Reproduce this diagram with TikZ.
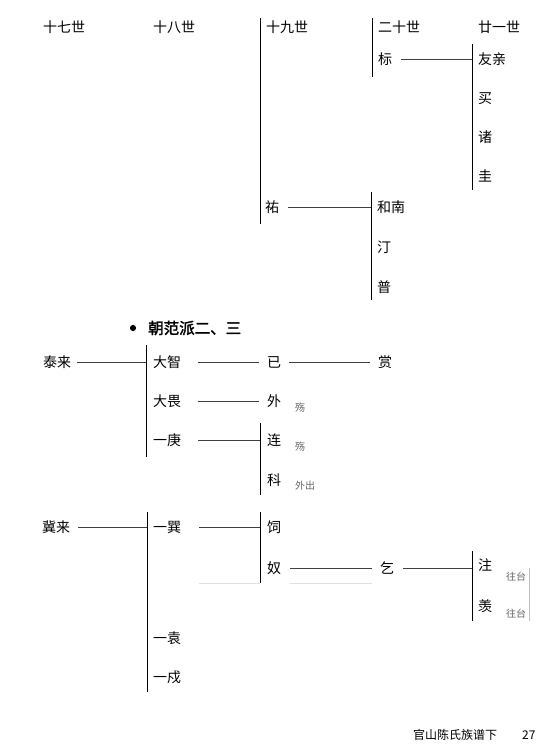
\documentclass[tikz,border=0pt]{standalone}
\usepackage{fontspec}
\newfontfamily\cjk{Noto Sans CJK SC}
\newfontfamily\cjkbold[FakeBold=2]{Noto Sans CJK SC}
\tikzset{
  person/.style={anchor=west, inner sep=0pt, font=\cjk\fontsize{14}{14}\selectfont},
  note/.style={anchor=west, inner sep=0pt, text=black!60, font=\cjk\fontsize{10}{10}\selectfont},
  vrule/.style={line width=1pt, black},
  hrule/.style={line width=0.8pt, black!75},
  faint/.style={line width=0.8pt, black!12},
}
\begin{document}
\begin{tikzpicture}[x=1pt,y=-1pt]
\useasboundingbox (0,0) rectangle (550,750);
% headers
\node[person] (h17) at (43,27) {十七世};
\node[person] (h18) at (153,27) {十八世};
\node[person] (h19) at (266,27) {十九世};
\node[person] (h20) at (378,27) {二十世};
\node[person] (h21) at (478,27) {廿一世};
% vertical line coordinates, top section
\coordinate (v19t) at (260,18);  \coordinate (v19b) at (260,224);
\coordinate (v20t) at (372,18);  \coordinate (v20b) at (372,77);
\coordinate (v21t) at (472,44);  \coordinate (v21b) at (472,190);
\coordinate (v20ct) at (371,192); \coordinate (v20cb) at (371,300);
\draw[vrule] (v19t) -- (v19b);
\draw[vrule] (v20t) -- (v20b);
\draw[vrule] (v21t) -- (v21b);
\draw[vrule] (v20ct) -- (v20cb);
\node[person] (biao) at (378,59) {标};
\node[person] (youqin) at (478,59) {友亲};
\node[person] (mai) at (478,99) {买};
\node[person] (zhu) at (478,137) {诸};
\node[person] (gui) at (478,176) {圭};
\draw[hrule, shorten <=9pt] (biao.east) -- (biao.east -| v21t);
\node[person] (you) at (265,207) {祐};
\draw[hrule, shorten <=9pt] (you.east) -- (you.east -| v20ct);
\node[person] (henan) at (377,207) {和南};
\node[person] (ting) at (377,247) {汀};
\node[person] (pu) at (377,287) {普};
% section heading
\node[circle, fill=black, inner sep=2.2pt] (bullet) at (133,328) {};
\node[anchor=west, inner sep=0pt, font=\cjkbold\fontsize{15.5}{15.5}\selectfont] (head) at (148,328) {朝范派二、三};
% Tailai branch
\coordinate (vat) at (146,345); \coordinate (vab) at (146,457);
\coordinate (vbt) at (260,423); \coordinate (vbb) at (260,495);
\draw[vrule] (vat) -- (vab);
\draw[vrule] (vbt) -- (vbb);
\node[person] (tailai) at (43,362) {泰来};
\draw[hrule, shorten <=6pt] (tailai.east) -- (tailai.east -| vat);
\node[person] (dazhi) at (153,362) {大智};
\node[person] (dawei) at (153,401) {大畏};
\node[person] (yigeng) at (153,440) {一庚};
\node[person] (yi) at (267,362) {已};
\node[person] (shang) at (378,362) {赏};
\node[person] (wai) at (267,401) {外};
\node[person] (lian) at (267,440) {连};
\node[person] (ke) at (267,480) {科};
\draw[hrule, shorten <=17pt, shorten >=8pt] (dazhi.east) -- (yi.west);
\draw[hrule, shorten <=8pt, shorten >=8pt] (yi.east) -- (shang.west);
\draw[hrule, shorten <=17pt, shorten >=8pt] (dawei.east) -- (wai.west);
\draw[hrule, shorten <=17pt] (yigeng.east) -- (yigeng.east -| vbt);
\node[note] (n1) at (295,408) {殇};
\node[note] (n2) at (295,447) {殇};
\node[note] (n3) at (295,486) {外出};
% Jilai branch
\coordinate (vct) at (147,512); \coordinate (vcb) at (147,692);
\coordinate (vdt) at (260,512); \coordinate (vdb) at (260,583);
\coordinate (vet) at (472,551); \coordinate (veb) at (472,621);
\draw[vrule] (vct) -- (vcb);
\draw[vrule] (vdt) -- (vdb);
\draw[vrule] (vet) -- (veb);
\node[person] (jilai) at (42,527) {冀来};
\draw[hrule, shorten <=8pt] (jilai.east) -- (jilai.east -| vct);
\node[person] (yixun) at (153,527) {一巽};
\draw[hrule, shorten <=18pt] (yixun.east) -- (yixun.east -| vdt);
\node[person] (si) at (267,527) {饲};
\node[person] (nu) at (267,568) {奴};
\node[person] (qi) at (380,568) {乞};
\draw[hrule, shorten <=9pt, shorten >=8pt] (nu.east) -- (qi.west);
\draw[hrule, shorten <=9pt] (qi.east) -- (qi.east -| vet);
\node[person] (zhuu) at (478,565) {注};
\node[person] (xian) at (478,606) {羡};
\node[note] (wt1) at (506,577) {往台};
\node[note] (wt2) at (506,614) {往台};
\coordinate (gt) at (529,568); \coordinate (gb) at (529,621);
\draw[line width=0.8pt, black!25] (gt) -- (gb);
\coordinate (f1a) at (199,583); \coordinate (f1b) at (260,583);
\coordinate (f2a) at (290,583); \coordinate (f2b) at (372,583);
\draw[faint] (f1a) -- (f1b);
\draw[faint] (f2a) -- (f2b);
\node[person] (yiyuan) at (153,638) {一袁};
\node[person] (yishu) at (153,677) {一戍};
% footer
\node[anchor=west, inner sep=0pt, font=\cjk\fontsize{12}{12}\selectfont] (foot) at (413,735) {官山陈氏族谱下};
\node[anchor=west, inner sep=0pt, font=\cjk\fontsize{12}{12}\selectfont] (page) at (522,735) {27};
\end{tikzpicture}
\end{document}
